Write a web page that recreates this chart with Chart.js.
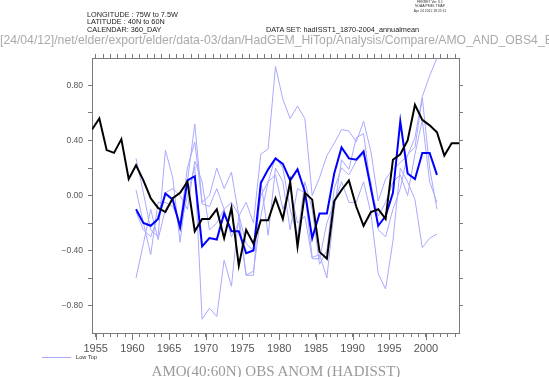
<!DOCTYPE html>
<html>
<head>
<meta charset="utf-8">
<script src="https://cdn.jsdelivr.net/npm/chart.js@4.4.1/dist/chart.umd.min.js"></script>
<style>
  html, body { margin: 0; padding: 0; background: #fff; }
  #wrap { position: relative; width: 549px; height: 377px; overflow: hidden; font-family: "Liberation Sans", Arial, sans-serif; }
  #chart { position: absolute; left: 0; top: 0; }
  .t { position: absolute; white-space: nowrap; line-height: 1; }
  .hdr { font-size: 7.3px; color: #222; }
  .tiny { font-size: 3.4px; color: #333; text-align: center; width: 60px; left: 400px; }
  #path { left: 0; top: 34px; font-size: 12.2px; color: #aaa; }
  #title { left: 0; width: 552px; text-align: center; top: 364px; font-family: "Liberation Serif", serif; font-size: 15px; color: #999; }
  #leg-line { position: absolute; left: 42px; top: 357px; width: 29px; height: 1px; background: #a9a9ff; }
  #leg-text { left: 76px; top: 355px; font-size: 5.7px; color: #333; }
</style>
</head>
<body>
<div id="wrap">
  <canvas id="chart" width="549" height="377"></canvas>
  <div class="t tiny" style="top:1px">FERRET Ver. 6.1</div>
  <div class="t tiny" style="top:5px">NOAA/PMEL TMAP</div>
  <div class="t tiny" style="top:9.5px">Apr 24 2012 18:25:11</div>
  <div class="t hdr" style="left:87px; top:10.5px">LONGITUDE : 75W to 7.5W</div>
  <div class="t hdr" style="left:87px; top:18.3px">LATITUDE : 40N to 60N</div>
  <div class="t hdr" style="left:87px; top:26px">CALENDAR: 360_DAY</div>
  <div class="t hdr" style="left:266px; top:26px">DATA SET: hadISST1_1870-2004_annualmean</div>
  <div class="t" id="path">[24/04/12]/net/elder/export/elder/data-03/dan/HadGEM_HiTop/Analysis/Compare/AMO_AND_OBS4_E</div>
  <div id="leg-line"></div>
  <div class="t" id="leg-text">Low Top</div>
  <div class="t" id="title">AMO(40:60N) OBS ANOM (HADISST)</div>
</div>
<script>
// annual means, stamped at mid-year
const obsYears = [1954.5, 1955.5, 1956.5, 1957.5, 1958.5, 1959.5, 1960.5, 1961.5, 1962.5, 1963.5,
  1964.5, 1965.5, 1966.5, 1967.5, 1968.5, 1969.5, 1970.5, 1971.5, 1972.5, 1973.5,
  1974.5, 1975.5, 1976.5, 1977.5, 1978.5, 1979.5, 1980.5, 1981.5, 1982.5, 1983.5,
  1984.5, 1985.5, 1986.5, 1987.5, 1988.5, 1989.5, 1990.5, 1991.5, 1992.5, 1993.5,
  1994.5, 1995.5, 1996.5, 1997.5, 1998.5, 1999.5, 2000.5, 2001.5, 2002.5, 2003.5, 2004.5];

// HadISST observed AMO anomaly
const obsAnom = [0.48, 0.56, 0.33, 0.31, 0.41, 0.12, 0.22, 0.11, -0.02, -0.09,
  -0.12, -0.02, 0.02, 0.10, -0.26, -0.17, -0.17, -0.10, -0.31, -0.09,
  -0.51, -0.25, -0.35, -0.18, -0.18, -0.02, -0.17, 0.10, -0.37, 0.02,
  -0.03, -0.41, -0.46, -0.04, 0.04, 0.11, -0.08, -0.22, -0.12, -0.10,
  -0.17, 0.26, 0.30, 0.40, 0.66, 0.55, 0.51, 0.46, 0.29, 0.38, 0.38];

// model runs cover 1960.5 .. 2001.5
const modelYears = obsYears.slice(6, 48);

const ensMean = [-0.10, -0.20, -0.22, -0.17, 0.015, -0.03, -0.23, 0.11, 0.14, -0.37,
  -0.31, -0.32, -0.13, -0.26, -0.26, -0.42, -0.40, 0.09, 0.19, 0.27,
  0.23, 0.11, 0.19, 0.03, -0.31, -0.13, -0.13, 0.16, 0.35, 0.27,
  0.26, 0.32, 0.05, -0.22, -0.15, 0.02, 0.54, 0.16, 0.12, 0.31,
  0.31, 0.15];

const lowTop1 = [0.27, 0.02, -0.25, -0.30, 0.33, 0.13, -0.34, 0.10, 0.52, -0.05,
  0.00, 0.20, 0.05, 0.17, -0.15, -0.05, -0.20, 0.30, 0.34, 0.94,
  0.70, 0.56, 0.65, 0.56, 0.00, 0.13, 0.29, 0.38, 0.48, 0.47,
  0.39, 0.54, 0.32, -0.04, 0.12, 0.19, 0.24, 0.29, 0.42, 0.72,
  0.87, 1.00];
const lowTop2 = [0.04, -0.20, -0.43, -0.05, -0.05, -0.08, -0.20, 0.20, 0.39, -0.06,
  -0.08, 0.05, -0.10, -0.05, -0.14, -0.58, -0.58, 0.11, -0.29, 0.20,
  0.10, -0.25, 0.05, 0.02, -0.45, -0.43, -0.60, -0.10, 0.26, 0.19,
  0.42, 0.45, 0.05, -0.15, -0.05, 0.10, 0.15, 0.00, 0.30, 0.55,
  0.10, -0.05];
const lowTop3 = [-0.60, -0.35, -0.10, -0.32, -0.10, -0.02, -0.25, 0.00, 0.21, -0.90,
  -0.82, -0.88, -0.47, -0.66, -0.14, -0.35, -0.40, 0.00, 0.10, 0.28,
  0.20, -0.10, -0.30, 0.10, -0.10, -0.50, -0.40, 0.05, 0.20, 0.15,
  0.25, 0.30, 0.10, -0.25, -0.30, -0.10, 0.05, 0.30, 0.35, 0.71,
  0.20, -0.10];
const lowTop4 = [-0.12, -0.25, -0.30, -0.15, 0.02, 0.05, 0.00, -0.10, 0.25, 0.10,
  -0.25, -0.20, -0.10, -0.30, -0.20, -0.58, -0.55, -0.15, 0.10, 0.15,
  -0.10, 0.05, -0.20, -0.15, -0.46, -0.46, -0.20, -0.05, 0.10, -0.05,
  -0.05, 0.10, -0.13, -0.57, -0.68, -0.33, 0.20, 0.10, -0.03, -0.38,
  -0.31, -0.28];

const xLabelYears = [1955, 1960, 1965, 1970, 1975, 1980, 1985, 1990, 1995, 2000];
const yTickValues = [-0.8, -0.6, -0.4, -0.2, 0, 0.2, 0.4, 0.6, 0.8];
const yLabelValues = [-0.8, -0.4, 0, 0.4, 0.8];

const axisGray = '#7a7a7a';
const lowTopColor = '#a9a9ff';

function pts(xs, ys) {
  return xs.map(function(x, i){ return {x: x, y: ys[i]}; });
}

function yearTicks(scale) {
  const t = [];
  for (let y = 1955; y <= 2004; y++) t.push({value: y});
  scale.ticks = t;
}
function valTicks(scale) {
  scale.ticks = yTickValues.map(function(v){ return {value: v}; });
}

// longer tick marks at the labelled years
const majorTicks = {
  id: 'majorTicks',
  afterDraw(chart) {
    const ctx = chart.ctx, xs = chart.scales.x, b = chart.chartArea.bottom;
    ctx.save();
    ctx.strokeStyle = axisGray;
    ctx.lineWidth = 1;
    xLabelYears.forEach(function(yr){
      const px = Math.round(xs.getPixelForValue(yr)) + 0.5;
      ctx.beginPath();
      ctx.moveTo(px, b);
      ctx.lineTo(px, b + 7);
      ctx.stroke();
    });
    ctx.restore();
  }
};

const thin = function(label, ys) {
  return {label: label, data: pts(modelYears, ys), borderColor: lowTopColor, borderWidth: 1,
    pointRadius: 0, fill: false, tension: 0};
};

new Chart(document.getElementById('chart'), {
  type: 'line',
  data: {
    datasets: [
      {label: 'HadISST', data: pts(obsYears, obsAnom), borderColor: '#000', borderWidth: 2,
        pointRadius: 0, fill: false, tension: 0},
      {label: 'Mean', data: pts(modelYears, ensMean), borderColor: '#0000ff', borderWidth: 2,
        pointRadius: 0, fill: false, tension: 0},
      thin('Low Top', lowTop1),
      thin('Low Top 2', lowTop2),
      thin('Low Top 3', lowTop3),
      thin('Low Top 4', lowTop4)
    ]
  },
  options: {
    responsive: false,
    animation: false,
    devicePixelRatio: 1,
    layout: {padding: 0},
    plugins: {legend: {display: false}, title: {display: false}, tooltip: {enabled: false}},
    scales: {
      x: {
        type: 'linear', position: 'bottom', min: 1954.5, max: 2004.5,
        afterBuildTicks: yearTicks,
        afterFit: function(s){ s.height = 44; },
        grid: {drawOnChartArea: false, drawTicks: true, tickLength: 4, tickColor: axisGray},
        border: {color: axisGray},
        ticks: {
          autoSkip: false, maxRotation: 0, padding: 5, color: '#555',
          font: {family: 'Liberation Sans', size: 11},
          callback: function(v){ return xLabelYears.indexOf(v) >= 0 ? String(v) : ''; }
        }
      },
      x2: {
        type: 'linear', position: 'top', min: 1954.5, max: 2004.5,
        afterBuildTicks: yearTicks,
        afterFit: function(s){ s.height = 58; },
        grid: {drawOnChartArea: false, drawTicks: true, tickLength: 4, tickColor: axisGray},
        border: {color: axisGray},
        ticks: {display: true, autoSkip: false, callback: function(){ return ''; }}
      },
      y: {
        type: 'linear', position: 'left', min: -1, max: 1,
        afterBuildTicks: valTicks,
        afterFit: function(s){ s.width = 92; },
        grid: {drawOnChartArea: false, drawTicks: true, tickLength: 4, tickColor: axisGray},
        border: {color: axisGray},
        ticks: {
          autoSkip: false, padding: 5, color: '#555',
          font: {family: 'Liberation Sans', size: 8.5},
          callback: function(v){
            const hit = yLabelValues.some(function(l){ return Math.abs(l - v) < 1e-6; });
            if (!hit) return '';
            return (v < -1e-6 ? '\u2212' : '') + Math.abs(v).toFixed(2);
          }
        }
      },
      y2: {
        type: 'linear', position: 'right', min: -1, max: 1,
        afterBuildTicks: valTicks,
        afterFit: function(s){ s.width = 90; },
        grid: {drawOnChartArea: false, drawTicks: true, tickLength: 4, tickColor: axisGray},
        border: {color: axisGray},
        ticks: {display: true, autoSkip: false, callback: function(){ return ''; }}
      }
    }
  },
  plugins: [majorTicks]
});
</script>
</body>
</html>
